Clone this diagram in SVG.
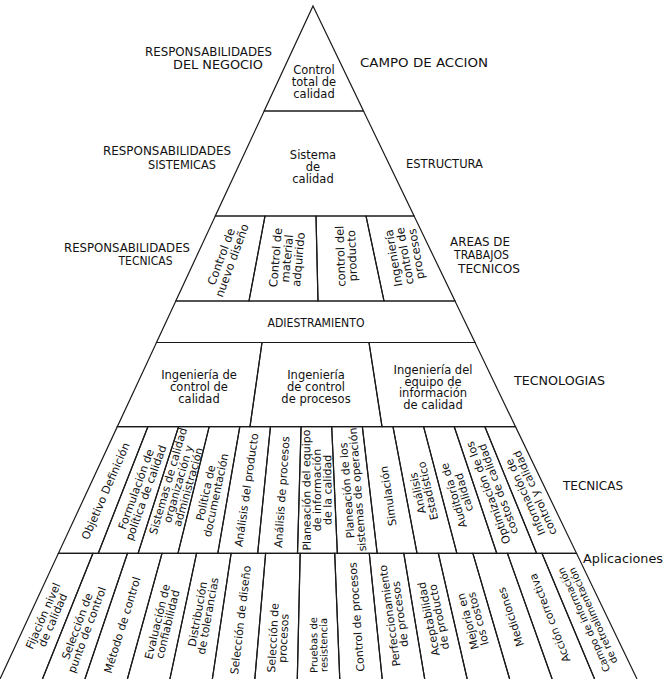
<svg xmlns="http://www.w3.org/2000/svg" width="669" height="679" viewBox="0 0 669 679">
<style>
.e{fill:none;stroke:#1a1a1a;stroke-width:1.2;stroke-linejoin:miter}
.c{font-family:"DejaVu Sans","Liberation Sans",sans-serif;font-size:11px;fill:#111;text-anchor:middle}
.s{font-size:10px}
.m{font-family:"DejaVu Sans","Liberation Sans",sans-serif;font-size:11.5px;fill:#111;text-anchor:middle}
.l{font-family:"DejaVu Sans","Liberation Sans",sans-serif;font-size:12.5px;fill:#111}
</style>
<rect width="669" height="679" fill="#fff"/>

<g id="labels">
<text class="l" x="145" y="56" textLength="127" lengthAdjust="spacingAndGlyphs">RESPONSABILIDADES</text>
<text class="l" x="173" y="68.5" textLength="90" lengthAdjust="spacingAndGlyphs">DEL NEGOCIO</text>
<text class="l" x="360" y="66.5" textLength="128" lengthAdjust="spacingAndGlyphs">CAMPO DE ACCION</text>
<text class="l" x="103" y="155" textLength="128" lengthAdjust="spacingAndGlyphs">RESPONSABILIDADES</text>
<text class="l" x="148" y="168.5" textLength="68" lengthAdjust="spacingAndGlyphs">SISTEMICAS</text>
<text class="l" x="406" y="168" textLength="77" lengthAdjust="spacingAndGlyphs">ESTRUCTURA</text>
<text class="l" x="64" y="252" textLength="126" lengthAdjust="spacingAndGlyphs">RESPONSABILIDADES</text>
<text class="l" x="118.5" y="265" textLength="54" lengthAdjust="spacingAndGlyphs">TECNICAS</text>
<text class="l" x="450" y="246" textLength="60" lengthAdjust="spacingAndGlyphs">AREAS DE</text>
<text class="l" x="454" y="259" textLength="55" lengthAdjust="spacingAndGlyphs">TRABAJOS</text>
<text class="l" x="458" y="272.5" textLength="62" lengthAdjust="spacingAndGlyphs">TECNICOS</text>
<text class="l" x="514" y="384.5" textLength="91" lengthAdjust="spacingAndGlyphs">TECNOLOGIAS</text>
<text class="l" x="563" y="490" textLength="60" lengthAdjust="spacingAndGlyphs">TECNICAS</text>
<text class="l" x="583" y="562.5" textLength="80" lengthAdjust="spacingAndGlyphs">Aplicaciones</text>
</g>

<g id="control-total">
<polygon class="e" points="313,6 363.5,111 264.2,111"/>
<text class="m" x="314" y="73.5">Control</text>
<text class="m" x="314" y="85.5">total de</text>
<text class="m" x="314" y="97.5">calidad</text>
</g>

<g id="sistema-calidad">
<polygon class="e" points="264.2,111 363.5,111 414.1,216 215.3,216"/>
<text class="m" x="313" y="159">Sistema</text>
<text class="m" x="313" y="171">de</text>
<text class="m" x="313" y="183">calidad</text>
</g>

<g id="a1">
<polygon class="e" points="215.3,216 265,216 249,301 175.8,301"/>
<text class="m" transform="translate(226.3,258.5) rotate(-70)"><tspan x="0" dy="-1.5">Control de</tspan><tspan x="0" dy="11.5">nuevo diseño</tspan></text>
</g>
<g id="a2">
<polygon class="e" points="265,216 316,216 318,301 249,301"/>
<text class="m" transform="translate(287,258.5) rotate(-85)"><tspan x="0" dy="-7.5">Control de</tspan><tspan x="0" dy="11.5">material</tspan><tspan x="0" dy="11.5">adquirido</tspan></text>
</g>
<g id="a3">
<polygon class="e" points="316,216 366,216 384,301 318,301"/>
<text class="m" transform="translate(346,256) rotate(-92)"><tspan x="0" dy="-1.5">control del</tspan><tspan x="0" dy="11.5">producto</tspan></text>
</g>
<g id="a4">
<polygon class="e" points="366,216 414.1,216 455,301 384,301"/>
<text class="m" transform="translate(404.8,256) rotate(-100)"><tspan x="0" dy="-7.5">Ingeniería</tspan><tspan x="0" dy="11.5">control de</tspan><tspan x="0" dy="11.5">procesos</tspan></text>
</g>

<g id="adiestramiento">
<polygon class="e" points="175.8,301 455,301 475,342.5 156.5,342.5"/>
<text class="l" x="316" y="327" text-anchor="middle" textLength="97" lengthAdjust="spacingAndGlyphs">ADIESTRAMIENTO</text>
</g>

<g id="t1">
<polygon class="e" points="156.5,342.5 262,342.5 250,426.7 117.3,426.7"/>
<text class="m" x="199" y="379">Ingeniería de</text>
<text class="m" x="199" y="391">control de</text>
<text class="m" x="199" y="403">calidad</text>
</g>
<g id="t2">
<polygon class="e" points="262,342.5 369,342.5 382,426.7 250,426.7"/>
<text class="m" x="316" y="379">Ingeniería</text>
<text class="m" x="316" y="391">de control</text>
<text class="m" x="316" y="403">de procesos</text>
</g>
<g id="t3">
<polygon class="e" points="369,342.5 475,342.5 515.5,426.7 382,426.7"/>
<text class="m" x="433" y="374">Ingeniería del</text>
<text class="m" x="433" y="385.5">equipo de</text>
<text class="m" x="433" y="397">información</text>
<text class="m" x="433" y="408.5">de calidad</text>
</g>

<g id="tc1"><polygon class="e" points="117.3,426.7 147.93,426.7 98.25,553.3 58.4,553.3"/>
<text class="c" transform="translate(105.5,491) rotate(-66.5)"><tspan x="0" dy="4">Objetivo Definición</tspan></text></g>
<g id="tc2"><polygon class="e" points="147.93,426.7 178.56,426.7 138.1,553.3 98.25,553.3"/>
<text class="c" transform="translate(140.8,491) rotate(-70.1)"><tspan x="0" dy="-1.25">Formulación de</tspan><tspan x="0" dy="10.5">política de calidad</tspan></text></g>
<g id="tc3"><polygon class="e" points="178.56,426.7 209.19,426.7 177.95,553.3 138.1,553.3"/>
<text class="c" transform="translate(178,484) rotate(-73.9)"><tspan x="0" dy="-6.5">Sistemas de calidad</tspan><tspan x="0" dy="10.5">organización y</tspan><tspan x="0" dy="10.5">administración</tspan></text></g>
<g id="tc4"><polygon class="e" points="209.19,426.7 239.82,426.7 217.8,553.3 177.95,553.3"/>
<text class="c" transform="translate(210.6,494) rotate(-77.9)"><tspan x="0" dy="-1.25">Política de</tspan><tspan x="0" dy="10.5">documentación</tspan></text></g>
<g id="tc5"><polygon class="e" points="239.82,426.7 270.45,426.7 257.65,553.3 217.8,553.3"/>
<text class="c" transform="translate(246.4,490) rotate(-81.9)"><tspan x="0" dy="4">Análisis del producto</tspan></text></g>
<g id="tc6"><polygon class="e" points="270.45,426.7 301.08,426.7 297.5,553.3 257.65,553.3"/>
<text class="c" transform="translate(281.7,492) rotate(-86.1)"><tspan x="0" dy="4">Análisis de procesos</tspan></text></g>
<g id="tc7"><polygon class="e" points="301.08,426.7 331.71,426.7 337.35,553.3 297.5,553.3"/>
<text class="c" transform="translate(316.9,490) rotate(-90.3)"><tspan x="0" dy="-6.5">Planeación del equipo</tspan><tspan x="0" dy="10.5">de información</tspan><tspan x="0" dy="10.5">de la calidad</tspan></text></g>
<g id="tc8"><polygon class="e" points="331.71,426.7 362.34,426.7 377.2,553.3 337.35,553.3"/>
<text class="c" transform="translate(352.1,490) rotate(-94.5)"><tspan x="0" dy="-1.25">Planeación de los</tspan><tspan x="0" dy="10.5">sistemas de operación</tspan></text></g>
<g id="tc9"><polygon class="e" points="362.34,426.7 392.97,426.7 417.05,553.3 377.2,553.3"/>
<text class="c" transform="translate(388.1,496) rotate(-98.6)"><tspan x="0" dy="4">Simulación</tspan></text></g>
<g id="tc10"><polygon class="e" points="392.97,426.7 423.6,426.7 456.9,553.3 417.05,553.3"/>
<text class="c" transform="translate(422.6,492) rotate(-102.7)"><tspan x="0" dy="-1.25">Análisis</tspan><tspan x="0" dy="10.5">Estadístico</tspan></text></g>
<g id="tc11"><polygon class="e" points="423.6,426.7 454.23,426.7 496.75,553.3 456.9,553.3"/>
<text class="c" transform="translate(458.7,494) rotate(-106.6)"><tspan x="0" dy="-1.25">Auditoría de</tspan><tspan x="0" dy="10.5">calidad</tspan></text></g>
<g id="tc12"><polygon class="e" points="454.23,426.7 484.86,426.7 536.6,553.3 496.75,553.3"/>
<text class="c" transform="translate(493,491) rotate(-110.4)"><tspan x="0" dy="-1.25">Optimización de los</tspan><tspan x="0" dy="10.5">costos de calidad</tspan></text></g>
<g id="tc13"><polygon class="e" points="484.86,426.7 515.5,426.7 576.5,553.3 536.6,553.3"/>
<text class="c" transform="translate(530,495) rotate(-114)"><tspan x="0" dy="-1.25">Información de</tspan><tspan x="0" dy="10.5">control y calidad</tspan></text></g>

<g id="ap1"><path class="e" d="M0,679 L58.4,553.3 L92.94,553.3 L42.47,679"/>
<text class="c" transform="translate(47.7,618) rotate(-66.6)"><tspan x="0" dy="-1.25">Fijación nivel</tspan><tspan x="0" dy="10.5">de calidad</tspan></text></g>
<g id="ap2"><path class="e" d="M42.47,679 L92.94,553.3 L127.48,553.3 L84.94,679"/>
<text class="c" transform="translate(81.9,628) rotate(-69.7)"><tspan x="0" dy="-1.25">Selección de</tspan><tspan x="0" dy="10.5">punto de control</tspan></text></g>
<g id="ap3"><path class="e" d="M84.94,679 L127.48,553.3 L162.02,553.3 L127.41,679"/>
<text class="c" transform="translate(122.1,625) rotate(-72.9)"><tspan x="0" dy="4">Método de control</tspan></text></g>
<g id="ap4"><path class="e" d="M127.41,679 L162.02,553.3 L196.56,553.3 L169.88,679"/>
<text class="c" transform="translate(162.3,623) rotate(-76.3)"><tspan x="0" dy="-1.25">Evaluación de</tspan><tspan x="0" dy="10.5">confiabilidad</tspan></text></g>
<g id="ap5"><path class="e" d="M169.88,679 L196.56,553.3 L231.1,553.3 L212.35,679"/>
<text class="c" transform="translate(202.6,615) rotate(-79.8)"><tspan x="0" dy="-1.25">Distribución</tspan><tspan x="0" dy="10.5">de tolerancias</tspan></text></g>
<g id="ap6"><path class="e" d="M212.35,679 L231.1,553.3 L265.64,553.3 L254.82,679"/>
<text class="c" transform="translate(240.4,620) rotate(-83.3)"><tspan x="0" dy="4">Selección de diseño</tspan></text></g>
<g id="ap7"><path class="e" d="M254.82,679 L265.64,553.3 L300.18,553.3 L297.29,679"/>
<text class="c" transform="translate(278.1,638) rotate(-86.9)"><tspan x="0" dy="-1.25">Selección de</tspan><tspan x="0" dy="10.5">procesos</tspan></text></g>
<g id="ap8"><path class="e" d="M297.29,679 L300.18,553.3 L334.72,553.3 L339.76,679"/>
<text class="c s" transform="translate(318.3,645) rotate(-90.6)"><tspan x="0" dy="-1">Pruebas de</tspan><tspan x="0" dy="10">resistencia</tspan></text></g>
<g id="ap9"><path class="e" d="M339.76,679 L334.72,553.3 L369.26,553.3 L382.23,679"/>
<text class="c" transform="translate(356.4,617) rotate(-94.2)"><tspan x="0" dy="4">Control de procesos</tspan></text></g>
<g id="ap10"><path class="e" d="M382.23,679 L369.26,553.3 L403.8,553.3 L424.7,679"/>
<text class="c" transform="translate(394.7,615) rotate(-97.8)"><tspan x="0" dy="-1.25">Perfeccionamiento</tspan><tspan x="0" dy="10.5">de procesos</tspan></text></g>
<g id="ap11"><path class="e" d="M424.7,679 L403.8,553.3 L438.34,553.3 L467.17,679"/>
<text class="c" transform="translate(433.7,618) rotate(-101.3)"><tspan x="0" dy="-1.25">Aceptabilidad</tspan><tspan x="0" dy="10.5">de producto</tspan></text></g>
<g id="ap12"><path class="e" d="M467.17,679 L438.34,553.3 L472.88,553.3 L509.64,679"/>
<text class="c" transform="translate(472.9,620) rotate(-104.8)"><tspan x="0" dy="-1.25">Mejoría en</tspan><tspan x="0" dy="10.5">los costos</tspan></text></g>
<g id="ap13"><path class="e" d="M509.64,679 L472.88,553.3 L507.42,553.3 L552.11,679"/>
<text class="c" transform="translate(510.6,617) rotate(-108.1)"><tspan x="0" dy="4">Mediciones</tspan></text></g>
<g id="ap14"><path class="e" d="M552.11,679 L507.42,553.3 L541.96,553.3 L594.58,679"/>
<text class="c" transform="translate(549.5,618) rotate(-111.3)"><tspan x="0" dy="4">Acción correctiva</tspan></text></g>
<g id="ap15"><path class="e" d="M594.58,679 L541.96,553.3 L576.5,553.3 L637,679"/>
<text class="c s" transform="translate(588,618) rotate(-114.4)"><tspan x="0" dy="-1">Campo de información</tspan><tspan x="0" dy="10">de retroalimentación</tspan></text></g>

<g id="connectors"></g>
</svg>
